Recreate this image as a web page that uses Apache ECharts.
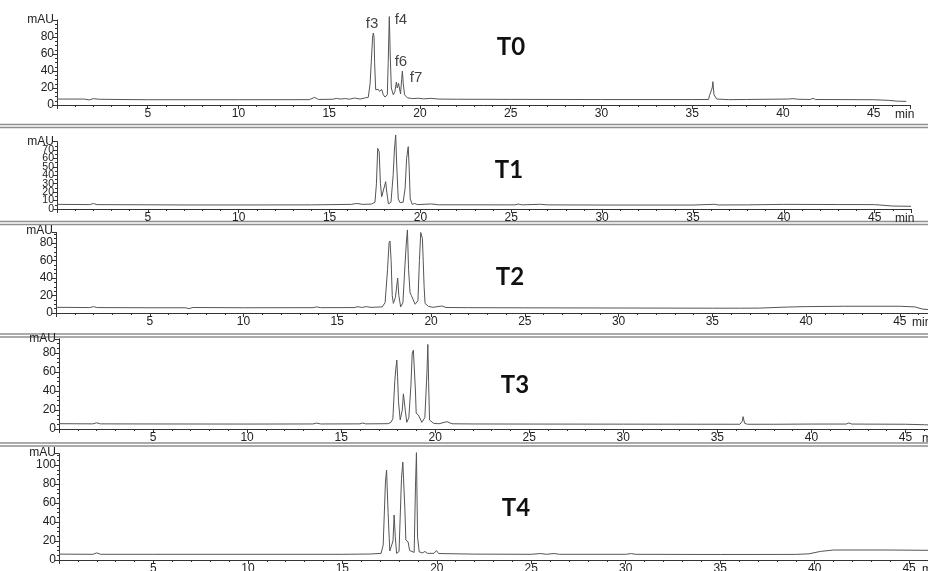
<!DOCTYPE html>
<html><head><meta charset="utf-8">
<script src="https://cdn.jsdelivr.net/npm/echarts@6/dist/echarts.min.js"></script>
<style>html,body{margin:0;padding:0;background:#fff}#c{width:928px;height:571px}</style>
</head><body><div id="c"></div>
<script>
// ---------- DATA ----------
const panelNames = ['T0', 'T1', 'T2', 'T3', 'T4'];
const yMax = [100, 80, 92, 95, 112];
const yLabelStep = [20, 10, 20, 20, 20];
const xTickLabels = [5, 10, 15, 20, 25, 30, 35, 40, 45];
const xMax = [47, 47, 46.5, 46.2, 46];

// retention time (min), absorbance (mAU)
const traceT0 = [[0,7],[1.5,7],[1.8,6],[2.0,7.5],[2.3,6.8],[3.3,6.5],[5,6.2],[10,6.2],[13.9,6.3],[14.2,9],[14.4,6.5],[15.2,6.8],[15.4,7.8],[15.6,7],[15.9,7.6],[16.1,6.8],[16.4,8.2],[16.7,7],[17.0,8.5],[17.15,9],[17.25,24.7],[17.34,60],[17.39,80],[17.43,84.7],[17.47,80],[17.5,50],[17.56,18],[17.62,17],[17.7,18.4],[17.78,16],[17.89,18.4],[17.98,12],[18.07,9.4],[18.2,12],[18.25,50],[18.31,104],[18.36,60],[18.42,20],[18.53,12],[18.62,16],[18.7,27],[18.75,20],[18.82,25.5],[18.93,13],[18.99,30],[19.03,40],[19.08,25],[19.15,12],[19.3,8.5],[19.6,7.5],[19.9,8],[20.2,7.2],[20.6,7.8],[21,7],[22,6.8],[25,6.6],[30,6.4],[35,6.4],[35.9,6.5],[35.95,11],[36.05,11],[36.1,20],[36.14,27.4],[36.2,12],[36.35,7],[37,6.3],[38,6.5],[40.3,7],[40.55,7.5],[40.8,6.8],[41.5,6.5],[41.65,7.8],[41.8,6.5],[45,6.2],[45.8,5.5],[46.3,4.5],[46.8,4.3]];

const traceT1 = [[0,5.5],[1.8,5.2],[2.0,6.5],[2.2,5.2],[5,5],[7,4.8],[10,4.8],[14,4.9],[16.2,5.5],[16.5,6.6],[16.8,5.5],[17.3,5.8],[17.5,8],[17.58,30],[17.65,72],[17.69,74],[17.73,68],[17.8,30],[17.87,14.6],[17.98,16],[18.09,32.4],[18.15,20],[18.24,6],[18.38,8],[18.5,40],[18.57,70],[18.64,87.8],[18.7,50],[18.78,12],[18.88,7.6],[19.05,8],[19.16,25],[19.24,60],[19.33,74],[19.38,50],[19.44,12],[19.55,5.5],[19.68,6.5],[19.85,5.2],[20.6,6],[21,5],[25.2,4.9],[25.4,5.8],[25.6,4.9],[26.6,5.6],[27,4.9],[30,4.7],[35,4.7],[36.2,5.6],[36.4,4.8],[38,4.9],[40,5.5],[43,5.3],[45,5.2],[46,3.5],[47,3.2]];

const traceT2 = [[0,6.5],[1.8,6.2],[2.0,7.3],[2.2,6.2],[5,6],[6.9,6],[7.1,5],[7.3,6.3],[10,6],[13.7,6.1],[13.9,7],[14.1,6.1],[15.9,6.2],[16.1,7.2],[16.3,6.3],[16.55,7.3],[16.8,6.4],[17.4,7],[17.55,12],[17.68,50],[17.76,80],[17.81,82.3],[17.87,60],[17.93,20],[17.99,11],[18.1,18],[18.22,40],[18.28,20],[18.38,7],[18.5,12],[18.61,55],[18.68,80],[18.74,95],[18.8,50],[18.88,23],[18.95,20],[19.02,19],[19.15,10],[19.3,14],[19.38,60],[19.45,92],[19.54,85],[19.63,30],[19.68,11],[19.86,7.6],[20.1,6.5],[20.57,8],[20.8,6.3],[22,6.1],[25,5.9],[30,5.7],[35,5.5],[36.2,5.5],[36.3,6.5],[36.45,5.5],[37.5,5.6],[39,6.8],[40,7.3],[42,7.7],[45,7.7],[45.8,7],[46.2,4.5],[46.5,4]];

const traceT3 = [[0,5.6],[1.8,5.4],[2.0,6.5],[2.2,5.4],[5,5.3],[10,5.2],[13.5,5.3],[13.7,6.2],[13.9,5.3],[16,5.4],[16.15,6.3],[16.3,5.4],[17.5,5.6],[17.65,7],[17.75,11],[17.85,50],[17.91,64],[17.96,72.6],[18.0,55],[18.05,28.7],[18.14,9.5],[18.25,20],[18.31,37],[18.34,35],[18.37,37],[18.42,18],[18.49,7],[18.6,12],[18.71,46],[18.78,80],[18.84,83],[18.9,82],[18.95,40],[18.99,16.5],[19.11,14.7],[19.29,7],[19.45,12],[19.56,58.6],[19.61,89],[19.65,50],[19.7,9.5],[19.91,6],[20.2,5.5],[20.62,7.7],[20.9,5.5],[22,5.3],[25,5.2],[30,5.1],[36.2,5],[36.32,8],[36.37,13],[36.45,6],[36.6,5],[38,5],[40,5.2],[41.85,5.2],[41.99,6.3],[42.15,5.2],[45,5],[46,4.5],[46.2,4.3]];

const traceT4 = [[0,6.2],[1.8,6],[2.0,7.5],[2.2,6],[5,6],[10,6],[15,6],[16.5,6.3],[17.05,7],[17.16,15.8],[17.28,82],[17.34,94.7],[17.42,50],[17.51,9.5],[17.6,8.5],[17.68,20],[17.74,47.4],[17.8,25],[17.87,7],[18.0,9],[18.13,86],[18.2,103],[18.27,105],[18.31,53],[18.36,21],[18.42,20],[18.48,19],[18.56,10],[18.66,8.5],[18.8,8],[18.87,77],[18.92,113],[18.98,24],[19.07,8.5],[19.25,7.5],[19.37,9],[19.5,7],[19.85,7],[19.98,10],[20.1,6.8],[22,6.2],[25,6],[25.5,6.8],[25.8,6],[26.2,6.8],[26.5,6],[30,6],[30.3,6.8],[30.5,6],[35,5.8],[39,5.9],[39.7,6.5],[40.3,9],[41,10.5],[44,10.5],[46,10.2]];

// peak annotations for T0 (label text, time, mAU position)
const peakLabelsT0 = [['f3',17.36,95.3],['f4',18.95,100],['f6',18.95,50.6],['f7',19.78,31.8]];

const traces = [traceT0, traceT1, traceT2, traceT3, traceT4];

// ---------- LAYOUT ----------
const layout = [
  {left:57, top:20,    height:85,    title:[511,47],  nameGap:-15, minor:4},
  {left:57, top:141.6, height:67.4,  title:[509,170], nameGap:-16, minor:2},
  {left:56, top:232.5, height:80.5,  title:[510,277], nameGap:-16, minor:4},
  {left:59, top:338.75,height:90.25, title:[515,385], nameGap:-6,  minor:4},
  {left:59, top:453.6, height:106.4, title:[516,508], nameGap:-6,  minor:4}
];
const rightEdge = [910, 911, 928, 928, 928];
const separators = [[124.5,127.5],[221.5,224.5],[334,337],[443,446]];
const FONT = 'Liberation Sans, Arial, sans-serif';
const AX = '#333';

const grid = [], xAxis = [], yAxis = [], series = [], graphic = [];
layout.forEach((L, i) => {
  grid.push({left:L.left, top:L.top, width:rightEdge[i] - L.left, height:L.height,
    containLabel:false, outerBoundsMode:'none'});
  xAxis.push({
    type:'value', gridIndex:i, min:0, max:xMax[i], interval:5,
    axisLine:{show:true, onZero:false, lineStyle:{color:AX, width:1}},
    axisTick:{show:true, length:4, lineStyle:{color:AX, width:1}},
    minorTick:{show:true, splitNumber:5, length:2, lineStyle:{color:AX, width:1}},
    splitLine:{show:false},
    axisLabel:{margin:3, fontSize:12, color:'#222', fontFamily:FONT, hideOverlap:false,
      formatter:v => xTickLabels.includes(v) ? String(v) : ''},
    name:'min', nameLocation:'end', nameGap:L.nameGap,
    nameTextStyle:{fontSize:12, color:'#222', fontFamily:FONT, verticalAlign:'top', align:'left', padding:[4,0,0,0]}
  });
  // T1 has labels every 10: the even ones here, odd ones on an overlay axis below
  const step = i === 1 ? 2 * yLabelStep[i] : yLabelStep[i];
  yAxis.push({
    type:'value', gridIndex:i, min:0, max:yMax[i], interval:yLabelStep[i],
    axisLine:{show:true, lineStyle:{color:AX, width:1}},
    axisTick:{show:true, length:4, lineStyle:{color:AX, width:1}},
    minorTick:{show:true, splitNumber:L.minor, length:2, lineStyle:{color:AX, width:1}},
    splitLine:{show:false},
    axisLabel:{margin:3, fontSize: i===1 ? 10.5 : 12, lineHeight: i===1 ? 5 : 12, color:'#222', fontFamily:FONT,
      hideOverlap:false, showMinLabel:true, showMaxLabel:false,
      formatter:v => (v !== yMax[i] && v % step === 0) ? String(v) : ''},
    name:'mAU', nameLocation:'end', nameGap:0,
    nameTextStyle:{fontSize:12, color:'#222', fontFamily:FONT, align:'right', verticalAlign:'middle', padding:[0,3,0,0]}
  });
  series.push({
    type:'line', xAxisIndex:i, yAxisIndex:i, data:traces[i],
    showSymbol:false, smooth:false, clip:false, silent:true,
    lineStyle:{color:'#555', width:1}
  });
  graphic.push({type:'text', x:L.title[0], y:L.title[1],
    style:{text:panelNames[i], fill:'#111', fontFamily:'Lato, sans-serif', fontWeight:'bold', fontSize:24,
      align:'center', verticalAlign:'middle', textAlign:'center', textVerticalAlign:'middle'}});
});
// overlay axis for the odd T1 labels (10, 30, 50, 70)
yAxis.push({
  type:'value', gridIndex:1, min:0, max:yMax[1], interval:yLabelStep[1], position:'left',
  axisLine:{show:false}, axisTick:{show:false}, splitLine:{show:false},
  axisLabel:{margin:3, fontSize:10.5, lineHeight:5, color:'#222', fontFamily:FONT,
    hideOverlap:false, showMinLabel:false, showMaxLabel:false,
    formatter:v => (v % (2 * yLabelStep[1]) !== 0 && v !== yMax[1]) ? String(v) : ''}
});
separators.forEach(s => s.forEach(y => graphic.push({type:'line',
  shape:{x1:0, y1:y, x2:928, y2:y}, style:{stroke:'#8f8f8f', lineWidth:1.5}})));

series.push({
  type:'scatter', xAxisIndex:0, yAxisIndex:0, symbolSize:0, silent:true, clip:false,
  data: peakLabelsT0.map(d => ({name:d[0], value:[d[1], d[2]]})),
  label:{show:true, position:'inside', formatter:'{b}', fontSize:15, color:'#111', fontFamily:FONT}
});

const chart = echarts.init(document.getElementById('c'), null, {renderer:'canvas'});
chart.setOption({animation:false, backgroundColor:'#fff', grid, xAxis, yAxis, series, graphic});
</script></body></html>
